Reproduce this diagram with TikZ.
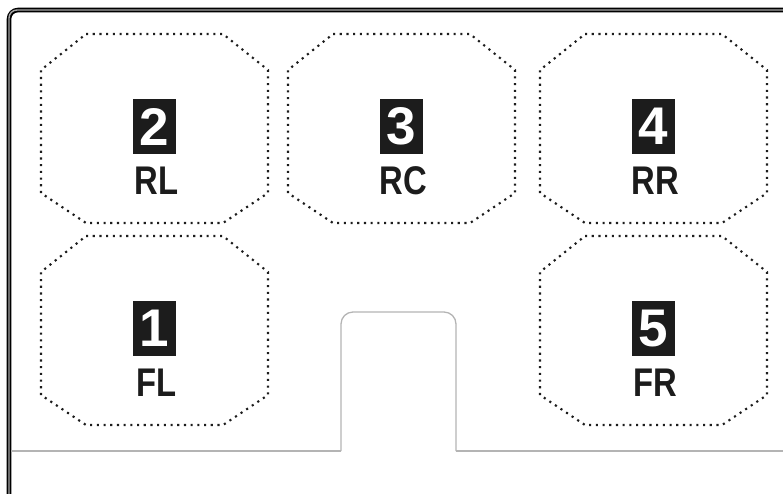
\documentclass[tikz,border=0pt]{standalone}
\usepackage{fontspec}
\setmainfont{Liberation Sans}
\usepackage{graphicx}
\definecolor{ink}{HTML}{1C1C1C}
\definecolor{seam}{HTML}{B4B4B4}
\newcommand{\zonebox}[5]{%
  \draw[zoneline] ({#1+45},{#2}) -- ({#1+182},{#2}) -- ({#1+227},{#2+36}) -- ({#1+227},{#2+159}) -- ({#1+182},{#2+189}) -- ({#1+45},{#2+189}) -- ({#1},{#2+159}) -- ({#1},{#2+36}) -- cycle;
  \node[numbox] (n#5) at ({#1+113.5},{#2+92.5}) {#3};
  \node[lbl] (l#5) at ({#1+115.5},{#2+147}) {\scalebox{0.82}[1]{#4}};
}
\begin{document}
\begin{tikzpicture}[x=1pt,y=-1pt,
  zoneline/.style={line width=2.1pt, dash pattern=on 2.1pt off 4.6pt, ink},
  numbox/.style={fill=ink, text=white, minimum width=43pt, minimum height=55pt, inner sep=0pt, font=\bfseries\fontsize{53}{53}\selectfont},
  lbl/.style={text=ink, inner sep=0pt, font=\bfseries\fontsize{40}{40}\selectfont},
  seamline/.style={seam, line width=1.3pt},
]
\useasboundingbox (0,0) rectangle (783,493);
\clip (0,0) rectangle (783,493);
% outer frame (double line)
\draw[line width=4.6pt, black, rounded corners=9pt] (9,10) rectangle (830,540);
\draw[line width=1.4pt, gray!70, rounded corners=8pt] (9,10) rectangle (830,540);
% seam line with bump
\draw[seamline] (11,451) -- (341,451);
\draw[seamline, rounded corners=12pt] (341,451) -- (341,312) -- (456,312) -- (456,451);
\draw[seamline] (456,451) -- (790,451);
% zones
\zonebox{41}{34}{2}{RL}{rl}
\zonebox{288}{34}{3}{RC}{rc}
\zonebox{540}{34}{4}{RR}{rr}
\zonebox{41}{236}{1}{FL}{fl}
\zonebox{540}{236}{5}{FR}{fr}
\end{tikzpicture}
\end{document}
